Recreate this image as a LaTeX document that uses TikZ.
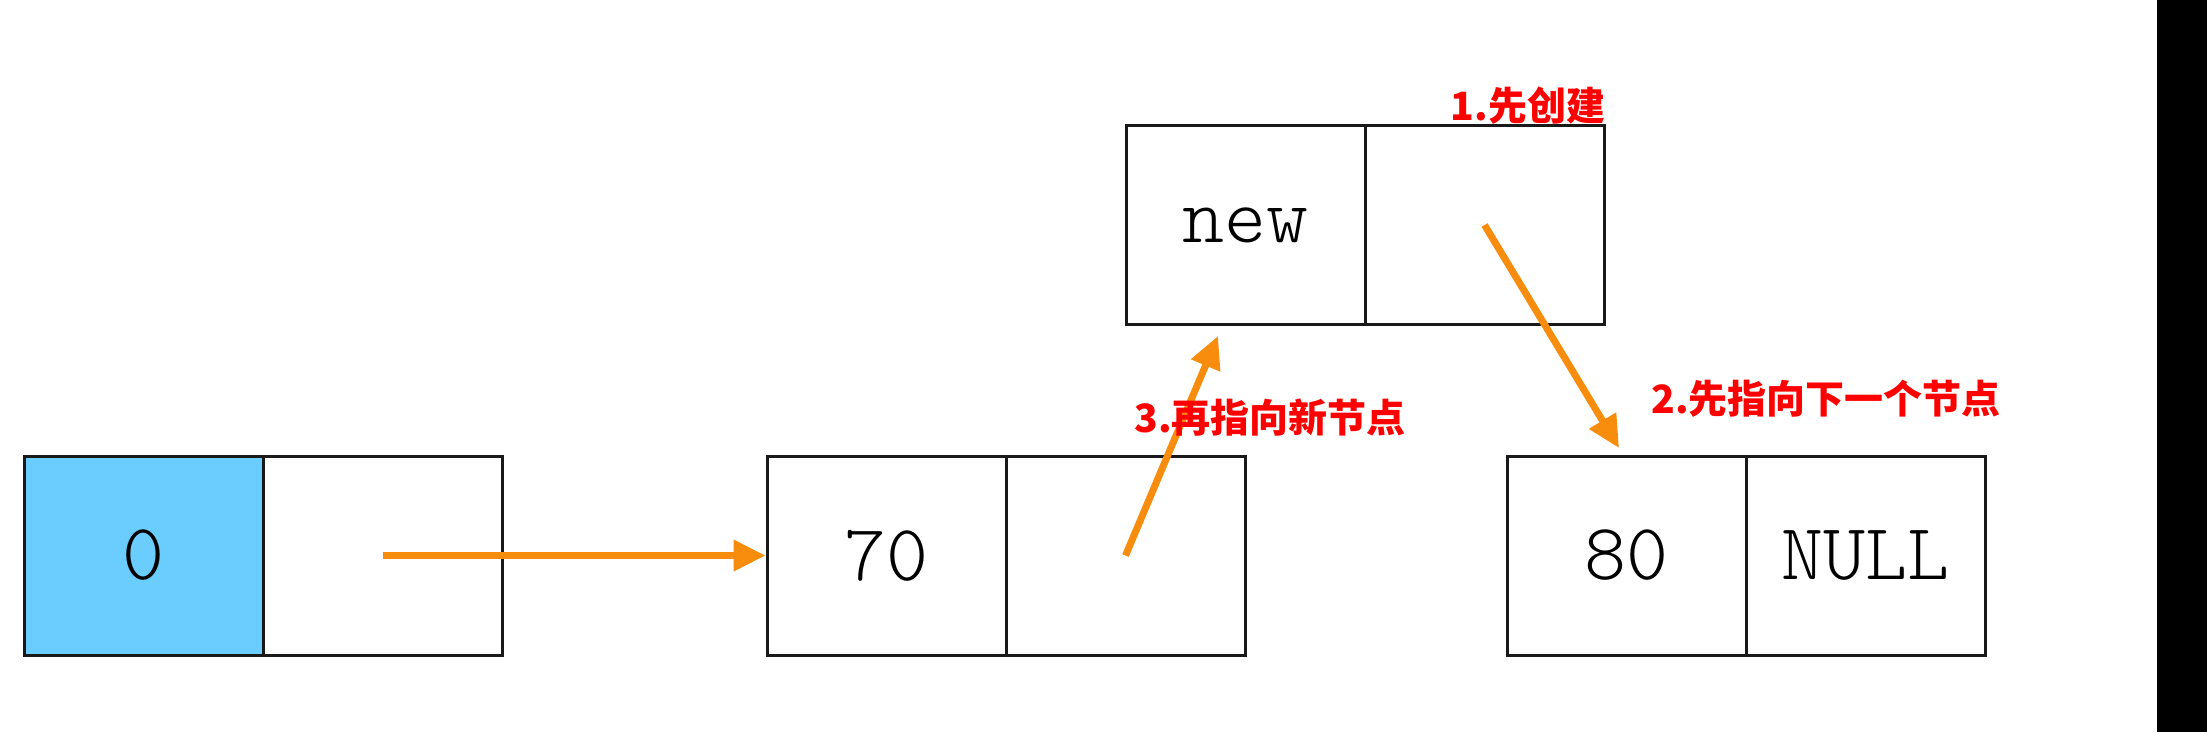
\documentclass[tikz,border=0pt]{standalone}
\usepackage{fontspec}
\setmonofont{Latin Modern Mono Light}
\newfontfamily\cjk{Noto Sans CJK SC}
\usetikzlibrary{arrows.meta}
\definecolor{arroworange}{RGB}{248,140,12}
\definecolor{cellblue}{RGB}{106,205,253}
\definecolor{labelred}{RGB}{255,0,0}
\tikzset{
  cell/.style={draw=black!90, line width=3pt, minimum width=239pt, minimum height=199pt, inner sep=0pt, font=\ttfamily\fontsize{80}{80}\selectfont},
  link/.style={draw=arroworange, line width=7pt, -{Triangle[length=32pt,width=30pt]}},
  note/.style={text=labelred, font=\cjk\bfseries\fontsize{39}{39}\selectfont, inner sep=0pt}
}
\begin{document}
\begin{tikzpicture}[x=1pt,y=-1pt]
\useasboundingbox (0,0) rectangle (2207,732);
\fill[white] (0,0) rectangle (2207,732);
\fill[black] (2157,0) rectangle (2207,732);
% node 0
\node[cell, fill=cellblue] (n0d) at (143.5,555.5) {0};
\node[cell] (n0p) at (382.5,555.5) {};
% node 70
\node[cell] (n70d) at (886.5,555.5) {70};
\node[cell] (n70p) at (1125.5,555.5) {};
% node new
\node[cell] (nnewd) at (1245.5,225) {new};
\node[cell] (nnewp) at (1484.5,225) {};
% node 80
\node[cell] (n80d) at (1626.5,555.5) {80};
\node[cell] (n80p) at (1865.5,555.5) {NULL};
% free ends
\coordinate (t2) at (1619,448);
\coordinate (t3) at (1218,336);
% arrows
\draw[link] (n0p.center) -- (n70d.west);
\draw[link] (nnewp.center) -- (t2);
\draw[link] (n70p.center) -- (t3);
% labels
\node[note] (l1) at (1528,106) {1.先创建};
\node[note] (l2) at (1826,399) {2.先指向下一个节点};
\node[note] (l3) at (1270,418) {3.再指向新节点};
\end{tikzpicture}
\end{document}
